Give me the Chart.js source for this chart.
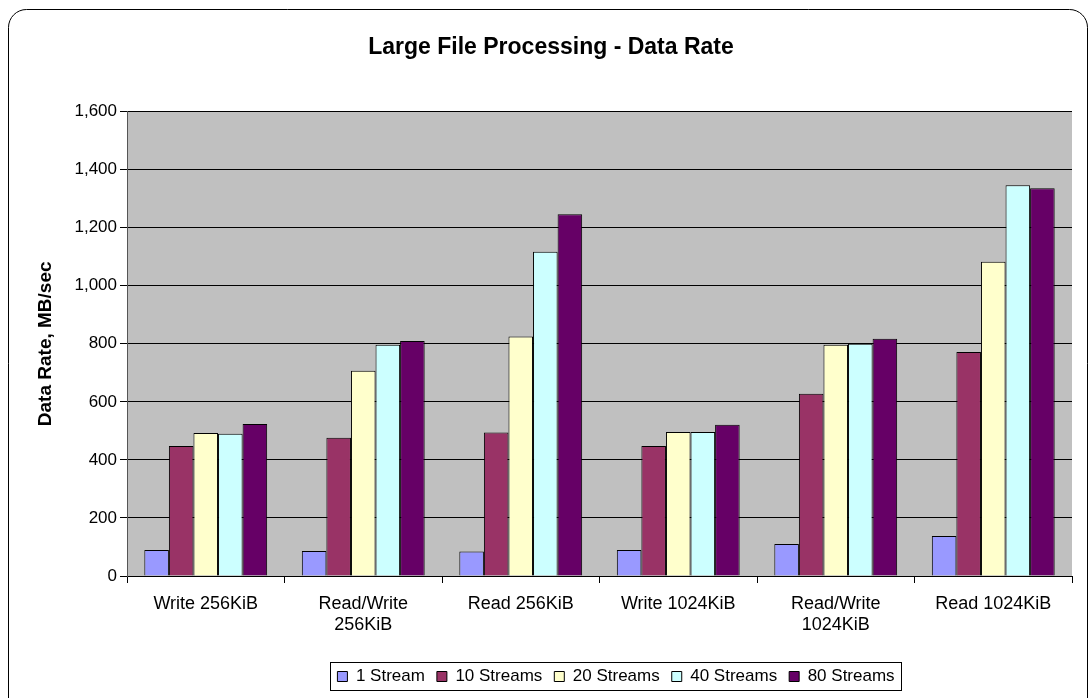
<!DOCTYPE html>
<html>
<head>
<meta charset="utf-8">
<script src="https://cdn.jsdelivr.net/npm/chart.js@4.4.1/dist/chart.umd.min.js"></script>
<style>
  body { margin: 0; background: #fff; }
  canvas { display: block; }
</style>
</head>
<body>
<canvas id="rate" width="1090" height="698"></canvas>
<script>
// values, MB/sec
var categories = [
    'Write 256KiB',
    ['Read/Write', '256KiB'],
    'Read 256KiB',
    'Write 1024KiB',
    ['Read/Write', '1024KiB'],
    'Read 1024KiB'
];
var streams1  = [90, 86, 84, 90, 110, 138];
var streams10 = [448, 476, 494, 448, 628, 772];
var streams20 = [493, 707, 825, 496, 797, 1083];
var streams40 = [490, 797, 1117, 496, 800, 1346];
var streams80 = [524, 810, 1246, 521, 817, 1336];
var seriesNames = ['1 Stream', '10 Streams', '20 Streams', '40 Streams', '80 Streams'];
var seriesColors = ['#9999FF', '#993366', '#FFFFCC', '#CCFFFF', '#660066'];

var FONT = "'Liberation Sans', Arial, sans-serif";
Chart.defaults.font.family = FONT;
Chart.defaults.color = '#000';

var allSeries = [streams1, streams10, streams20, streams40, streams80];
var datasets = allSeries.map(function(vals, i) {
    return {
        label: seriesNames[i],
        data: vals,
        backgroundColor: seriesColors[i],
        borderColor: '#000',
        borderWidth: 1,
        categoryPercentage: 0.78,
        barPercentage: 1
    };
});

// frame, grey plot area, and nudging title/legend like the excel layout
var excelLook = {
    id: 'excelLook',
    afterLayout: function(chart) {
        var t = chart.titleBlock;
        t.left += 15; t.right += 15;
        var lg = chart.legend;
        var shift = 616 - (lg.left + lg.right) / 2;
        lg.left += shift; lg.right += shift;
    },
    beforeDraw: function(chart) {
        var ctx = chart.ctx, a = chart.chartArea;
        ctx.save();
        ctx.fillStyle = '#fff';
        ctx.fillRect(0, 0, chart.width, chart.height);
        ctx.beginPath();
        ctx.roundRect(8.5, 9.5, 1079, 720, 18);
        ctx.strokeStyle = '#000';
        ctx.lineWidth = 1;
        ctx.stroke();
        ctx.fillStyle = '#C0C0C0';
        ctx.fillRect(a.left, a.top, a.right - a.left, a.bottom - a.top);
        ctx.restore();
    },
    afterDraw: function(chart) {
        var boxes = chart.legend.legendHitBoxes;
        if (!boxes || !boxes.length) return;
        var l = Infinity, r = -Infinity, tp = Infinity, b = -Infinity;
        boxes.forEach(function(h) {
            l = Math.min(l, h.left); r = Math.max(r, h.left + h.width);
            tp = Math.min(tp, h.top); b = Math.max(b, h.top + h.height);
        });
        var ctx = chart.ctx;
        ctx.save();
        ctx.strokeStyle = '#000';
        ctx.lineWidth = 1;
        ctx.strokeRect(Math.round(l - 7) + 0.5, Math.round(tp - 6) + 0.5,
                       Math.round(r - l + 14), Math.round(b - tp + 11));
        ctx.restore();
    }
};

new Chart(document.getElementById('rate'), {
    type: 'bar',
    data: { labels: categories, datasets: datasets },
    options: {
        responsive: false,
        animation: false,
        layout: { padding: { left: 0, right: 18, top: 0, bottom: 3 } },
        plugins: {
            title: {
                display: true,
                text: 'Large File Processing - Data Rate',
                font: { size: 23, weight: 'bold' },
                color: '#000',
                padding: { top: 34, bottom: 50 }
            },
            legend: {
                position: 'bottom',
                labels: {
                    boxWidth: 10,
                    boxHeight: 10,
                    padding: 12,
                    font: { size: 17 },
                    color: '#000'
                }
            },
            tooltip: { enabled: false }
        },
        scales: {
            x: {
                afterFit: function(s) { s.height = 80; },
                grid: {
                    offset: true,
                    drawOnChartArea: false,
                    drawTicks: true,
                    tickLength: 7,
                    color: '#000'
                },
                border: { color: '#000' },
                ticks: { font: { size: 18 }, padding: 10, maxRotation: 0, autoSkip: false }
            },
            y: {
                min: 0,
                max: 1600,
                afterFit: function(s) { s.width = 127; },
                grid: { color: '#000', tickLength: 7 },
                border: { color: '#555' },
                ticks: { stepSize: 200, font: { size: 17 }, padding: 3 },
                title: {
                    display: true,
                    text: 'Data Rate, MB/sec',
                    font: { size: 19, weight: 'bold' },
                    padding: { top: 34, bottom: 0 }
                }
            }
        }
    },
    plugins: [excelLook]
});
</script>
</body>
</html>
